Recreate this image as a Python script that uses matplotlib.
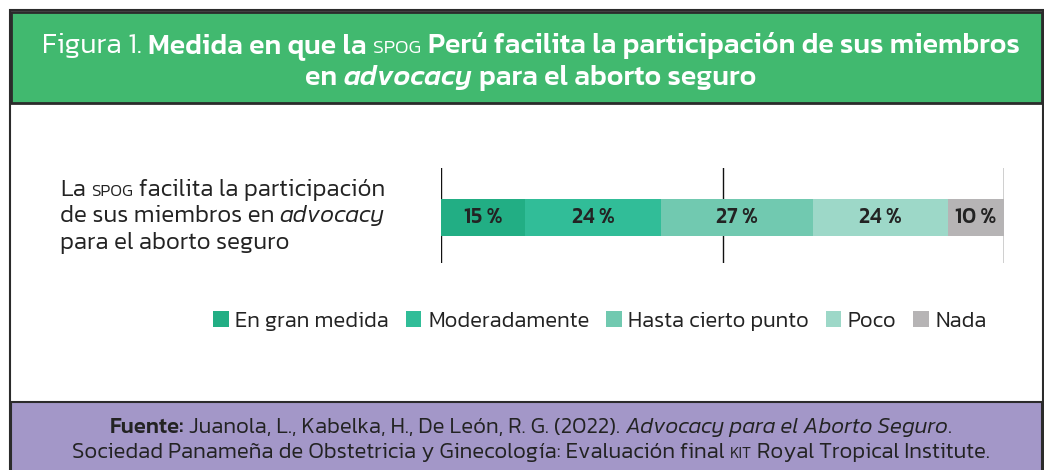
import matplotlib
matplotlib.use("Agg")
import matplotlib.pyplot as plt
from matplotlib.patches import Rectangle, Patch

# data
categories = ["En gran medida", "Moderadamente", "Hasta cierto punto", "Poco", "Nada"]
values = [15, 24, 27, 24, 10]
colors = ["#22ae84", "#31bd98", "#71c9b0", "#9dd8c8", "#b6b4b5"]
grid_ticks = [0, 50, 100]

W, H = 1044, 470
FONT = "Kanit"
REG = 300
BOLD = 500
DARK = "#232323"


def fx(px):
    return px / W


def fy(py):
    return 1 - py / H


fig = plt.figure(figsize=(W / 100, H / 100), dpi=100)
fig.patch.set_facecolor("white")

# frames
fig.patches.append(Rectangle((fx(10), fy(470)), fx(1043) - fx(10), fy(10) - fy(470),
                             transform=fig.transFigure, facecolor="none",
                             edgecolor="#2b2b2b", lw=1.5, zorder=0))
fig.patches.append(Rectangle((fx(11), fy(103)), fx(1042) - fx(11), fy(12) - fy(103),
                             transform=fig.transFigure, facecolor="#41b96f",
                             edgecolor="#2b2b2b", lw=2, zorder=1))
fig.patches.append(Rectangle((fx(11), fy(472)), fx(1042) - fx(11), fy(402) - fy(472),
                             transform=fig.transFigure, facecolor="#a397c8",
                             edgecolor="#2b2b2b", lw=1.5, zorder=1))

renderer = fig.canvas.get_renderer()


def rich_line(segs, x, y, size, color, ha="center", fit=None):
    # segs: (text, props, space_before, relative size); fit = target width in px
    def build(sz):
        sp = fig.text(0, 0, "x x", fontsize=sz, family=FONT, weight=REG)
        nsp = fig.text(0, 0, "xx", fontsize=sz, family=FONT, weight=REG)
        space = sp.get_window_extent(renderer).width - nsp.get_window_extent(renderer).width
        sp.remove()
        nsp.remove()
        out = []
        for s, kw, gap, rel in segs:
            props = dict(fontsize=sz * rel, color=color, family=FONT, weight=REG)
            props.update(kw)
            t = fig.text(0, fy(y), s, ha="left", va="baseline", zorder=5, **props)
            out.append((t, gap, t.get_window_extent(renderer).width))
        total = sum(w for _, _, w in out) + sum(space for _, g, _ in out if g)
        return out, space, total

    out, space, total = build(size)
    if fit:
        for t, _, _ in out:
            t.remove()
        size = size * fit / total
        out, space, total = build(size)
    cur = x - total / 2 if ha == "center" else x
    for t, gap, w in out:
        if gap:
            cur += space
        t.set_x(fx(cur))
        cur += w
    return size


B = dict(weight=BOLD)
tsize = rich_line([("Figura 1.", {}, False, 1), ("Medida en que la", B, True, 1),
                   ("SPOG", {}, True, 0.68),
                   ("Perú facilita la participación de sus miembros", B, True, 1)],
                  531, 53, 18, "white", fit=978)
rich_line([("en", B, False, 1), ("advocacy", dict(weight=BOLD, style="italic"), True, 1),
           ("para el aborto seguro", B, True, 1)],
          531, 85, tsize, "white")

# row label
lsize = rich_line([("La", {}, False, 1), ("SPOG", {}, True, 0.7),
                   ("facilita la participación", {}, True, 1)], 60, 196, 14, DARK,
                  ha="left", fit=324)
rich_line([("de sus miembros en", {}, False, 1), ("advocacy", dict(style="italic"), True, 1)],
          60, 222, lsize, DARK, ha="left")
rich_line([("para el aborto seguro", {}, False, 1)], 60, 249, lsize, DARK, ha="left")

# footer
fsize = rich_line([("Sociedad Panameña de Obstetricia y Ginecología: Evaluación final", {}, False, 1),
                   ("KIT", {}, True, 0.7), ("Royal Tropical Institute.", {}, True, 1)],
                  531, 458, 13, DARK, fit=918)
rich_line([("Fuente:", B, False, 1), ("Juanola, L., Kabelka, H., De León, R. G. (2022).", {}, True, 1),
           ("Advocacy para el Aborto Seguro", dict(style="italic"), True, 1), (".", {}, False, 1)],
          531, 433, fsize, DARK)

# bar
ax = fig.add_axes([fx(441), fy(263), fx(1004) - fx(441), fy(168) - fy(263)])
ax.set_xlim(0, 100)
ax.set_ylim(-0.5, 0.5)
left = 0
for v, c in zip(values, colors):
    ax.barh([-0.02], [v], left=left, height=0.39, color=c, zorder=2)
    ax.text(left + v / 2, -0.02, f"{v}\u2009%", ha="center", va="center", fontsize=15.5,
            weight=BOLD, color=DARK, family=[FONT, "DejaVu Sans"], zorder=3)
    left += v
ax.set_xticks(grid_ticks)
ax.grid(axis="x", color="#111111", lw=1, zorder=1)
ax.tick_params(length=0, labelbottom=False, labelleft=False)
ax.set_yticks([])
for s in ax.spines.values():
    s.set_visible(False)
ax.patch.set_alpha(0)

handles = [Patch(facecolor=c, label=l) for c, l in zip(colors, categories)]
fig.legend(handles=handles, loc="center", bbox_to_anchor=(fx(600), fy(321)), ncol=5,
           frameon=False, handlelength=0.7, handleheight=0.7, handletextpad=0.3,
           columnspacing=0.75, prop=dict(family=FONT, size=lsize * 0.92, weight=REG),
           labelcolor=DARK)

fig.savefig("out.png", dpi=100)
